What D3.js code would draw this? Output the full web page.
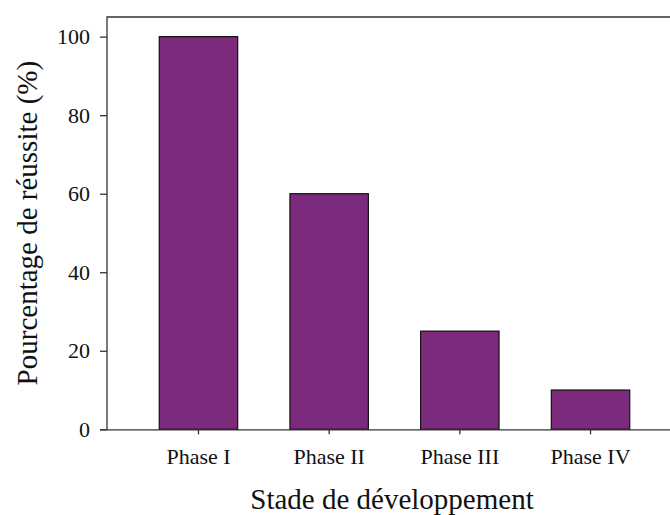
<!DOCTYPE html>
<html>
<head>
<meta charset="utf-8">
<script src="https://cdn.jsdelivr.net/npm/d3@7"></script>
<style>
  body { margin: 0; background: #fff; }
  svg { display: block; }
  svg text { font-family: "Liberation Serif", "Times New Roman", serif; fill: #111; }
</style>
</head>
<body>
<svg width="670" height="515"></svg>
<script>
const phases = ["Phase I", "Phase II", "Phase III", "Phase IV"];
const reussite = [100, 60, 25, 10];
const yTicks = [0, 20, 40, 60, 80, 100];

const svg = d3.select("svg");
const plotLeft = 107, plotRight = 682, plotTop = 17, plotBottom = 429.3;

const x = d3.scaleBand()
  .domain(phases)
  .range([plotLeft, plotRight])
  .paddingInner(0.4)
  .paddingOuter(0.4);

const y = d3.scaleLinear()
  .domain([0, 105])
  .range([plotBottom, plotTop]);

// BARS
svg.selectAll("rect.bar")
  .data(phases)
  .enter()
  .append("rect")
  .attr("class", "bar")
  .attr("x", d => x(d))
  .attr("y", (d, i) => y(reussite[i]))
  .attr("width", x.bandwidth())
  .attr("height", (d, i) => y(0) - y(reussite[i]))
  .attr("fill", "#7c2a7b")
  .attr("stroke", "#111")
  .attr("stroke-width", 1.2);

// FRAME (top and left)
svg.append("path")
  .attr("d", `M${plotLeft},${plotBottom}V${plotTop}H${plotRight}`)
  .attr("fill", "none")
  .attr("stroke", "#333")
  .attr("stroke-width", 1.3);

// Y AXIS
const yAxis = svg.append("g")
  .attr("transform", `translate(${plotLeft},0)`)
  .call(d3.axisLeft(y).tickValues(yTicks).tickSize(7).tickPadding(10).tickSizeOuter(0));
yAxis.attr("font-family", null);
yAxis.select(".domain").remove();
yAxis.selectAll("line").attr("stroke", "#333").attr("stroke-width", 1.3);
yAxis.selectAll("text").style("font-size", "22px");

// X AXIS
const xAxis = svg.append("g")
  .attr("transform", `translate(0,${plotBottom})`)
  .call(d3.axisBottom(x).tickSize(5).tickPadding(14).tickSizeOuter(0));
xAxis.attr("font-family", null);
xAxis.select(".domain")
  .attr("d", `M${plotLeft - 7},0.5H${plotRight}`)
  .attr("stroke", "#333")
  .attr("stroke-width", 1.3);
xAxis.selectAll("line").attr("stroke", "#333").attr("stroke-width", 1.3);
xAxis.selectAll("text").style("font-size", "22px");

// AXIS TITLES
svg.append("text")
  .attr("x", 392)
  .attr("y", 509)
  .attr("text-anchor", "middle")
  .style("font-size", "29px")
  .text("Stade de développement");

svg.append("text")
  .attr("transform", `translate(37,${(plotTop + plotBottom) / 2}) rotate(-90)`)
  .attr("text-anchor", "middle")
  .style("font-size", "29px")
  .text("Pourcentage de réussite (%)");
</script>
</body>
</html>
